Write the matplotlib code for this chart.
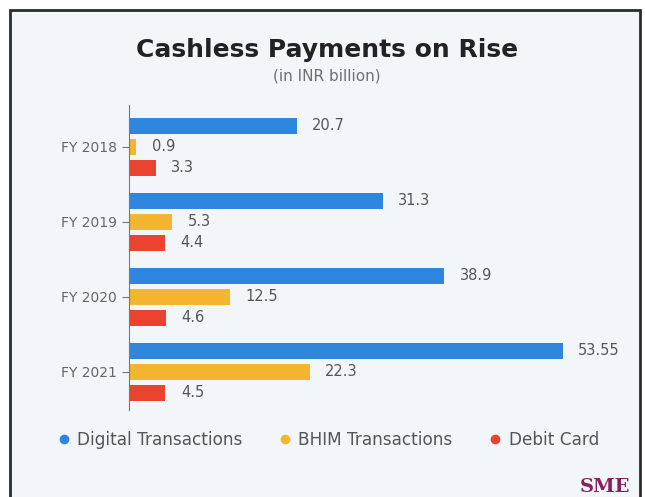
import numpy as np
import matplotlib.pyplot as plt
from matplotlib.patches import Rectangle
from matplotlib.lines import Line2D

years = ["FY 2018", "FY 2019", "FY 2020", "FY 2021"]
digital = [20.7, 31.3, 38.9, 53.55]
bhim = [0.9, 5.3, 12.5, 22.3]
debit = [3.3, 4.4, 4.6, 4.5]
series_names = ["Digital Transactions", "BHIM Transactions", "Debit Card"]
colors = ["#2f86de", "#f4b630", "#ea4330"]

plt.rcParams['font.family'] = ['DejaVu Sans']

fig = plt.figure(figsize=(6.45, 4.97), dpi=100)
fig.patch.set_facecolor("white")

# card background with dark frame
bg = fig.add_axes([0, 0, 1, 1], zorder=-5)
bg.set_axis_off()
bg.set_xlim(0, 1)
bg.set_ylim(0, 1)
bg.add_patch(Rectangle((10/645, -0.02), 630/645, 1 - 10/497 + 0.02,
                       facecolor="#f3f6f9", edgecolor="#2b2b2b", linewidth=2))

ax = fig.add_axes([129/645, 1 - 410/497, 491/645, 305/497])
ax.set_facecolor("none")

y = np.arange(len(years))
off = 0.28
h = 0.22
for vals, dy, c, name in zip([digital, bhim, debit], [-off, 0, off], colors, series_names):
    bars = ax.barh(y + dy, vals, height=h, color=c, label=name)
    for b, v in zip(bars, vals):
        ax.text(b.get_width() + 1.9, b.get_y() + b.get_height() / 2, f"{v:g}",
                va="center", ha="left", fontsize=10.5, color="#555555")

ax.set_xlim(0, 60.6)
ax.set_ylim(3.51, -0.56)
ax.set_yticks(y)
ax.set_yticklabels(years, fontsize=10, color="#666666")
ax.set_xticks([])
for s in ["top", "right", "bottom"]:
    ax.spines[s].set_visible(False)
ax.spines["left"].set_color("#777777")
ax.spines["left"].set_linewidth(0.8)
ax.tick_params(axis="y", length=5, color="#777777", width=0.8)

fig.text(327/645, 1 - 50/497, "Cashless Payments on Rise", ha="center", va="center",
         fontsize=18, fontweight="bold", color="#222222")
fig.text(327/645, 1 - 76/497, "(in INR billion)", ha="center", va="center",
         fontsize=11, color="#707070")

h2 = [Line2D([0], [0], marker="o", color="none", markerfacecolor=c, markeredgecolor=c,
             markersize=6) for c in colors]
fig.legend(h2, series_names, loc="center", bbox_to_anchor=(327/645, 1 - 440/497), ncol=3,
           frameon=False, fontsize=12.2, labelcolor="#555555", handletextpad=0.3,
           columnspacing=2.0, handlelength=1)

fig.text(605/645, 1 - 487/497, "SME", ha="center", va="center", fontsize=14,
         fontweight="bold", color="#8a1f5c", family="DejaVu Serif")

fig.savefig("out.png", dpi=100, facecolor=fig.get_facecolor())
